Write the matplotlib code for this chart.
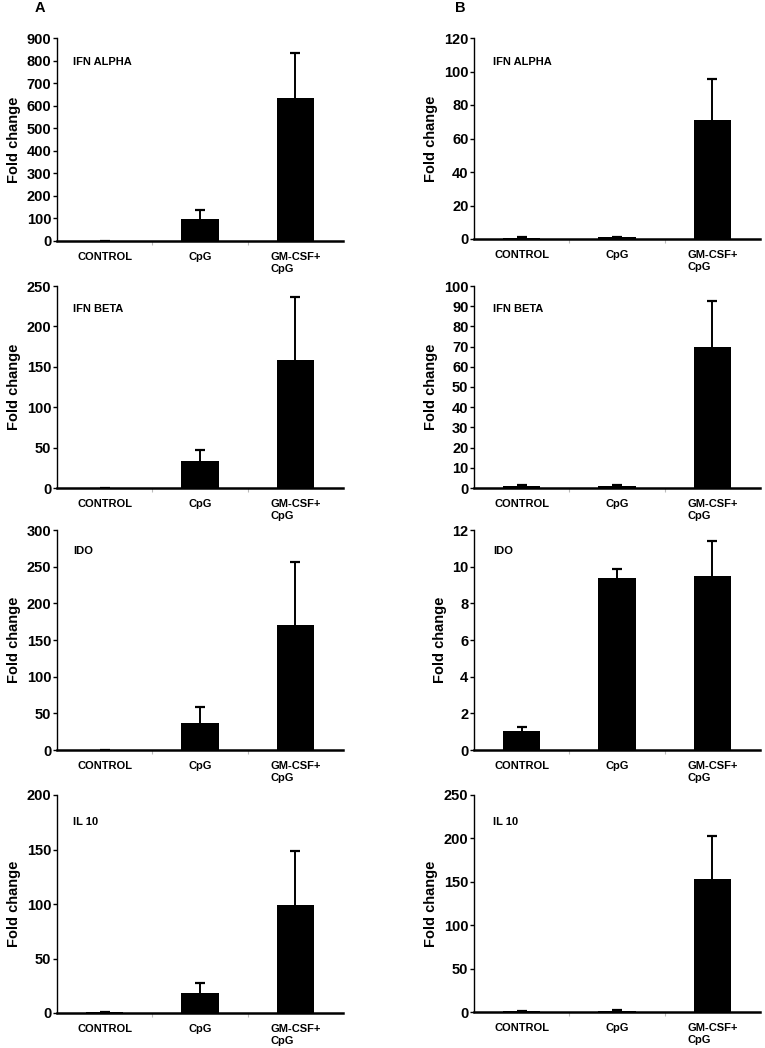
import matplotlib
matplotlib.use("Agg")
import matplotlib.pyplot as plt
import numpy as np

plt.rcParams['font.family'] = ['Liberation Sans', 'DejaVu Sans']
plt.rcParams['font.weight'] = 'bold'

categories = ["CONTROL", "CpG", "GM-CSF+\nCpG"]
genes = ["IFN ALPHA", "IFN BETA", "IDO", "IL 10"]

# Panel A
a_means = [[0.5, 98, 634], [0.5, 33, 159], [0.5, 37, 170], [0.5, 18.5, 99]]
a_errs = [[0, 39, 200], [0, 14, 78], [0, 22, 86], [0, 9, 50]]
a_ymax = [900, 250, 300, 200]
a_step = [100, 50, 50, 50]

# Panel B
b_means = [[0.8, 0.9, 71], [0.9, 1.0, 70], [1.04, 9.4, 9.5], [0.6, 1.6, 153]]
b_errs = [[0.4, 0.5, 24.5], [0.4, 0.5, 22.5], [0.22, 0.45, 1.9], [0.3, 0.9, 50]]
b_ymax = [120, 100, 12, 250]
b_step = [20, 10, 2, 50]

W, H = 765, 1048
fig = plt.figure(figsize=(W / 100, H / 100), dpi=100)

left_x = (57, 343)
right_x = (474, 760)
left_rows = [(38, 241), (286, 488), (530, 750), (795, 1013)]
right_rows = [(38, 239), (286, 488), (530, 750), (795, 1012)]
label_y = [0.88, 0.886, 0.905, 0.876]


def make_ax(xr, yr):
    return fig.add_axes([xr[0] / W, 1 - yr[1] / H, (xr[1] - xr[0]) / W, (yr[1] - yr[0]) / H])


def draw(ax, means, errs, ymax, step, gene, ly, lx):
    x = np.arange(len(categories))
    ax.bar(x, means, width=0.39, color='black', zorder=2)
    _, caps, _ = ax.errorbar(x, means, yerr=[np.zeros(len(errs)), errs], fmt='none',
                             ecolor='black', elinewidth=1.4, capsize=3.5, capthick=1.6, zorder=3)
    caps[0].set_visible(False)
    ax.set_xlim(-0.5, 2.5)
    ax.set_ylim(0, ymax)
    ax.set_yticks(np.arange(0, ymax + step / 2, step))
    ax.set_xticks(x)
    ax.set_xticklabels(categories, fontsize=8, fontweight='bold', ha='center',
                       multialignment='left')
    ax.set_xticks([0.5, 1.5], minor=True)
    ax.tick_params(axis='x', which='major', length=0, pad=8)
    ax.tick_params(axis='x', which='minor', length=3, color='#bbbbbb', width=0.8)
    ax.tick_params(axis='y', length=3, width=1, labelsize=10.5, pad=1)
    for t in ax.get_yticklabels():
        t.set_fontweight('bold')
    ax.spines['top'].set_visible(False)
    ax.spines['right'].set_visible(False)
    ax.spines['bottom'].set_linewidth(1.8)
    ax.spines['left'].set_linewidth(1.0)
    ax.set_ylabel("Fold change", fontsize=10.5, fontweight='bold', labelpad=4)
    ax.text(lx, ly, gene, transform=ax.transAxes, fontsize=8,
            fontweight='bold', va='center', ha='left')


for i in range(4):
    ax = make_ax(left_x, left_rows[i])
    draw(ax, a_means[i], a_errs[i], a_ymax[i], a_step[i], genes[i], label_y[i], 0.056)
    ax2 = make_ax(right_x, right_rows[i])
    draw(ax2, b_means[i], b_errs[i], b_ymax[i], b_step[i], genes[i], label_y[i], 0.066)

fig.text(40 / W, 1 - 8 / H, "A", fontsize=10.5, fontweight='bold', ha='center', va='center')
fig.text(460 / W, 1 - 8 / H, "B", fontsize=10.5, fontweight='bold', ha='center', va='center')

fig.savefig("out.png", dpi=100, facecolor='white')
